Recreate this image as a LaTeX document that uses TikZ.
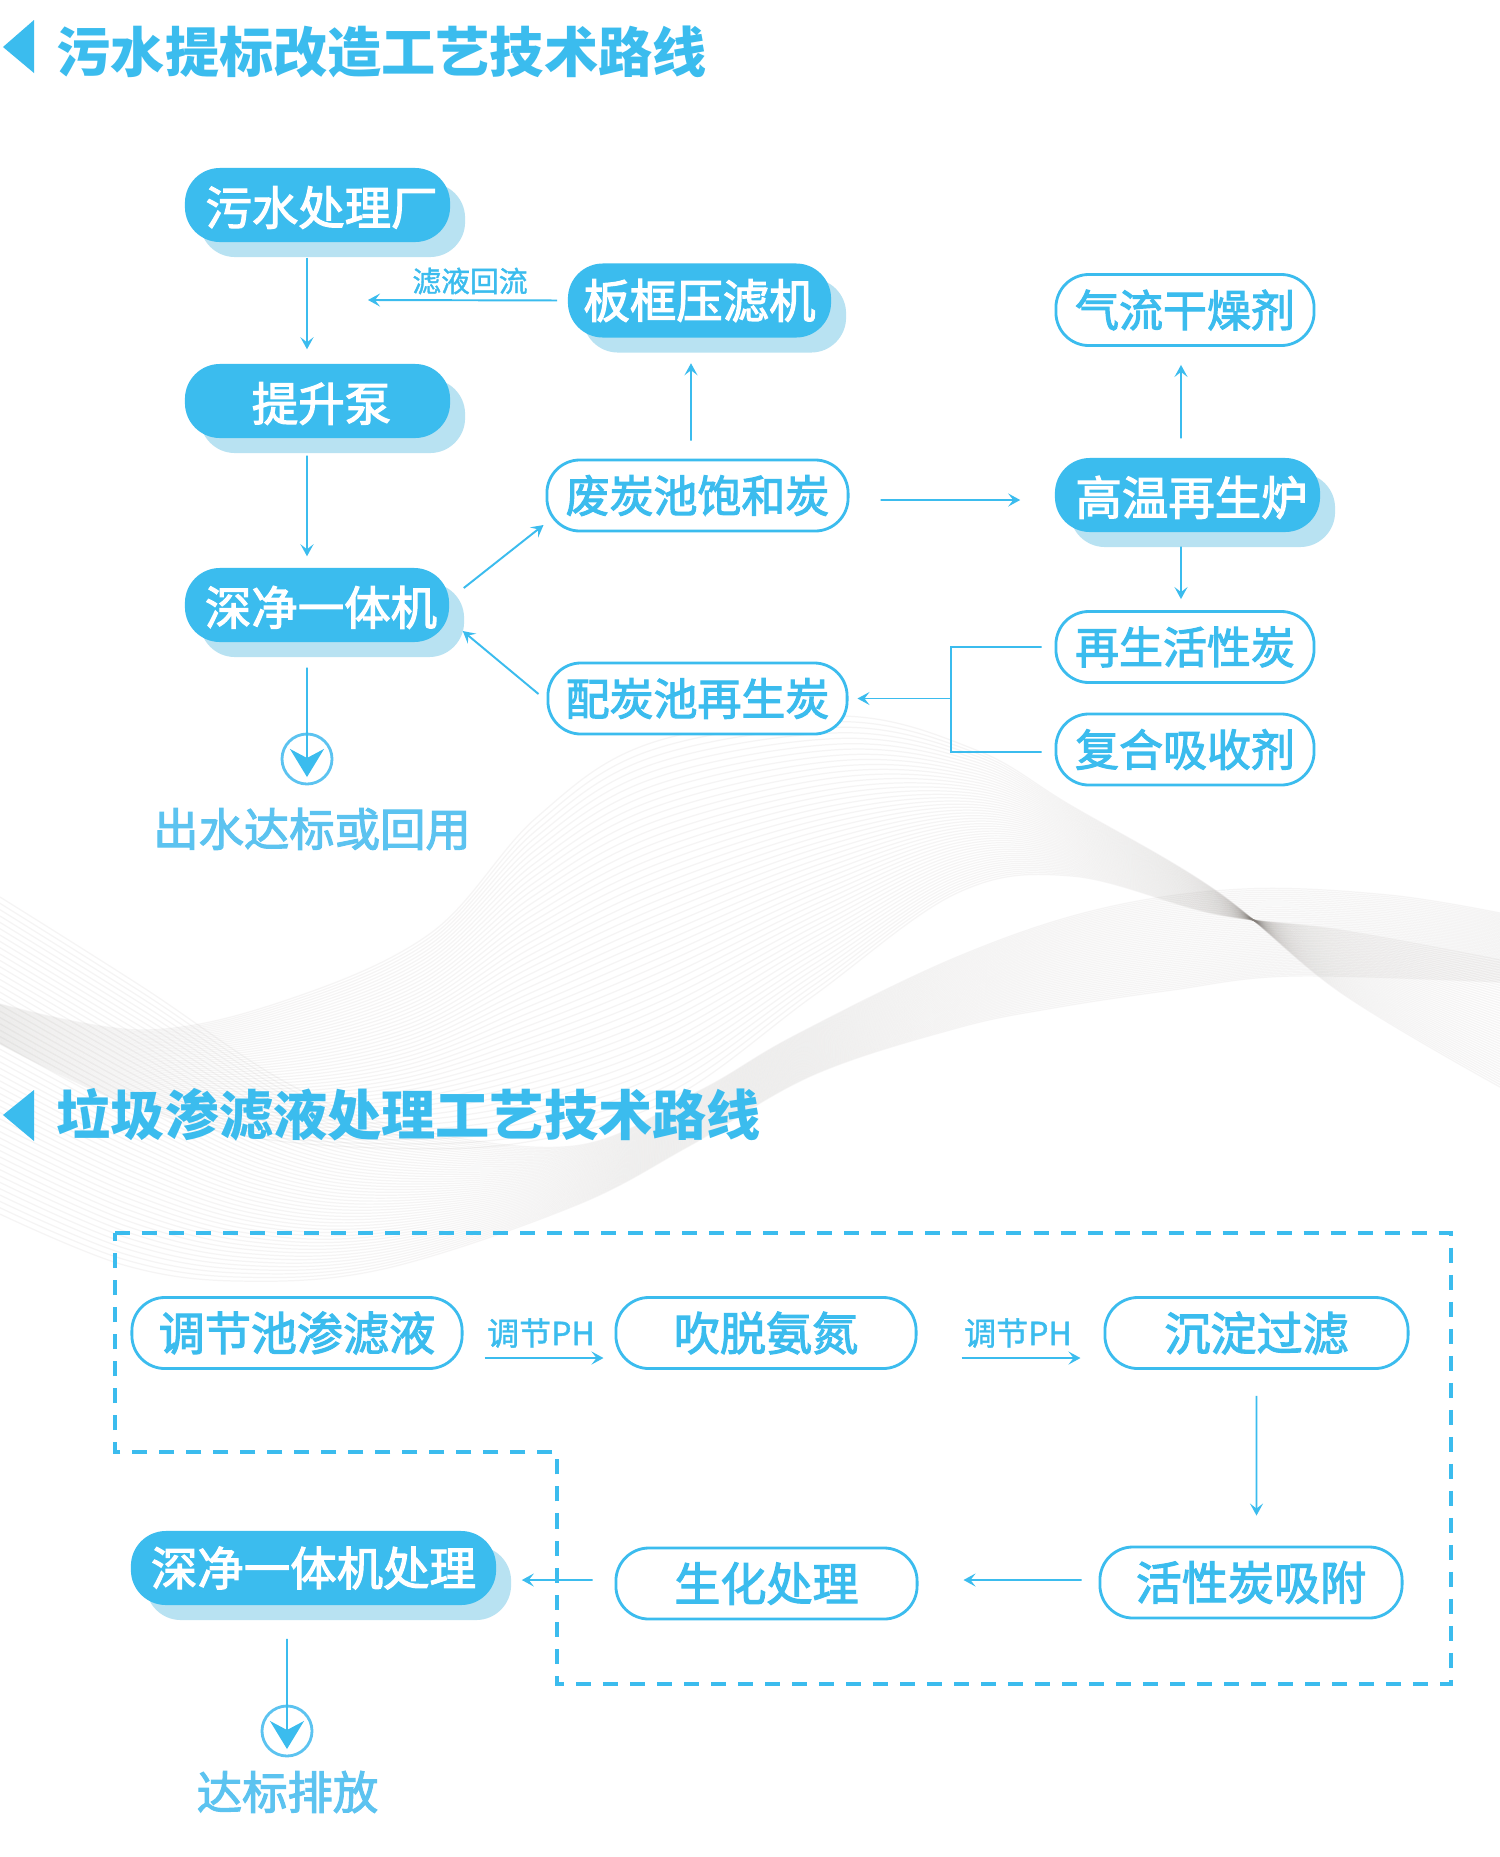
\documentclass[tikz,border=0pt]{standalone}
\usepackage{fontspec}
\usetikzlibrary{arrows.meta,calc,shadows}
\newfontfamily\cjk{Noto Sans CJK SC}
\newfontfamily\cjkmed[FakeBold=2.4]{Noto Sans CJK SC}
\newfontfamily\cjkthin[FakeBold=1.2]{Noto Sans CJK SC}
\definecolor{flowblue}{HTML}{3BBCEE}
\definecolor{paleblue}{HTML}{B8E2F2}
\definecolor{softblue}{HTML}{5CC3F0}
\definecolor{wavegrey}{HTML}{857F7A}
\tikzset{
  fillbox/.style={fill=flowblue,text=white,rounded corners=.35cm,minimum height=.74cm,inner sep=0pt,
    font=\cjkmed\fontsize{13.2}{15}\selectfont,
    general shadow={fill=paleblue,shadow xshift=.15cm,shadow yshift=-.15cm}},
  linebox/.style={draw=flowblue,fill=white,text=flowblue,line width=.8pt,rounded corners=.33cm,minimum height=.71cm,inner sep=0pt,
    font=\cjkmed\fontsize{13.1}{15}\selectfont},
  linenarrow/.style={linebox,font=\cjkmed\fontsize{12.5}{15}\selectfont},
  nudged/.style={text height=.44cm,text depth=.04cm,execute at begin node=\hspace*{.08cm}},
  flowline/.style={draw=flowblue,line width=.55pt,-{Stealth[length=.12cm,width=.13cm,inset=.05cm]}},
  bigline/.style={draw=flowblue,line width=.55pt,-{Stealth[length=.28cm,width=.34cm,inset=.09cm]}},
  busline/.style={draw=flowblue,line width=.55pt},
  endring/.style={circle,draw=softblue,line width=.8pt,minimum size=.5cm,inner sep=0pt},
  titletext/.style={text=flowblue,inner sep=0pt,anchor=west,font=\cjk\bfseries\fontsize{15.4}{17}\selectfont},
  smalltext/.style={text=flowblue,inner sep=0pt,font=\cjkthin\fontsize{8.2}{10}\selectfont},
  phtext/.style={smalltext,font=\cjkthin\fontsize{9.1}{11}\selectfont},
  endtext/.style={text=softblue,inner sep=0pt,font=\cjkmed\fontsize{12.9}{15}\selectfont},
  waveline/.style={draw=wavegrey,line width=.35pt,opacity=.08}
}
\begin{document}
\begin{tikzpicture}[x=.01cm,y=-.01cm]
\useasboundingbox (0,0) rectangle (1500,1857);
\fill[white] (0,0) rectangle (1500,1857);
\foreach \n/\ax/\ay/\bx/\by in {1/0/1004/0/1044,2/144/1030/115/1099,3/287/1000/239/1135,4/431/933/383/1148,5/536/818/526/1142,6/651/743/670/1099,7/842/716/813/996,8/976/750/957/893,9/1070/805/1072/876,10/1215/890/1215/914,11/1340/992/1340/930,12/1500/1087/1500/960}
  {\coordinate (ha\n) at (\ax,\ay); \coordinate (hb\n) at (\bx,\by);}
\foreach \n/\ax/\ay/\bx/\by in {1/0/897/0/1214,2/144/988/124/1265,3/287/1083/239/1281,4/402/1127/383/1269,5/574/1146/574/1206,6/699/1091/689/1146,7/794/1036/813/1075,8/957/957/957/1028,9/1100/909/1053/1008,10/1244/889/1172/990,11/1388/895/1292/976,12/1500/913/1500/982}
  {\coordinate (ta\n) at (\ax,\ay); \coordinate (tb\n) at (\bx,\by);}
\foreach \t in {0,.02,...,1.01}
  \draw[waveline] plot[smooth,tension=.6] coordinates {($(ha1)!\t!(hb1)$) ($(ha2)!\t!(hb2)$) ($(ha3)!\t!(hb3)$) ($(ha4)!\t!(hb4)$) ($(ha5)!\t!(hb5)$) ($(ha6)!\t!(hb6)$) ($(ha7)!\t!(hb7)$) ($(ha8)!\t!(hb8)$) ($(ha9)!\t!(hb9)$) ($(ha10)!\t!(hb10)$) ($(ha11)!\t!(hb11)$) ($(ha12)!\t!(hb12)$)};
\foreach \t in {0,.02,...,1.01}
  \draw[waveline] plot[smooth,tension=.6] coordinates {($(ta1)!\t!(tb1)$) ($(ta2)!\t!(tb2)$) ($(ta3)!\t!(tb3)$) ($(ta4)!\t!(tb4)$) ($(ta5)!\t!(tb5)$) ($(ta6)!\t!(tb6)$) ($(ta7)!\t!(tb7)$) ($(ta8)!\t!(tb8)$) ($(ta9)!\t!(tb9)$) ($(ta10)!\t!(tb10)$) ($(ta11)!\t!(tb11)$) ($(ta12)!\t!(tb12)$)};

\fill[flowblue] (3,47) -- (34,20) -- (34,73) -- cycle;
\node[titletext] (title1) at (56,52) {污水提标改造工艺技术路线};
\fill[flowblue] (3,1115) -- (34,1090) -- (34,1141) -- cycle;
\node[titletext] (title2) at (56,1115) {垃圾渗滤液处理工艺技术路线};

\node[fillbox,nudged,minimum width=2.65cm] (plant) at (317.5,205) {污水处理厂};
\node[fillbox,nudged,minimum width=2.65cm] (pump) at (317.5,401) {提升泵};
\node[fillbox,nudged,minimum width=2.64cm] (deep) at (317,605) {深净一体机};
\node[fillbox,minimum width=2.63cm] (filter) at (699.5,300.5) {板框压滤机};
\node[linenarrow,minimum width=3.01cm] (waste) at (697.5,495.5) {废炭池饱和炭};
\node[linenarrow,minimum width=2.99cm] (mix) at (697.5,698.5) {配炭池再生炭};
\node[fillbox,nudged,minimum width=2.65cm] (furnace) at (1187.5,495) {高温再生炉};
\node[linenarrow,minimum width=2.58cm] (dryer) at (1185,310) {气流干燥剂};
\node[linenarrow,minimum width=2.58cm] (regen) at (1185,647) {再生活性炭};
\node[linenarrow,minimum width=2.58cm] (compound) at (1185,749.5) {复合吸收剂};
\node[endring] (exit1) at (307,759) {};
\node[endtext] (exittext1) at (312,829) {出水达标或回用};
\node[smalltext] (returntext) at (470,281) {滤液回流};
\coordinate (returnend) at (368,300);
\coordinate (bustop) at (951,647);
\coordinate (busmid) at (951,698.5);
\coordinate (busbot) at (951,752);

\draw[flowline,shorten <=.15cm,shorten >=.14cm] ([xshift=-.105cm]plant.south) -- ([xshift=-.105cm]pump.north);
\draw[flowline,shorten <=.17cm,shorten >=.11cm] ([xshift=-.105cm]pump.south) -- ([xshift=-.1cm]deep.north);
\draw[flowline,shorten <=.1cm] (filter.west) -- (returnend);
\draw[flowline,shorten <=.18cm,shorten >=.25cm] ([xshift=-.065cm]waste.north) -- ([xshift=-.085cm]filter.south);
\draw[flowline] ([shift={(.14cm,.17cm)}]deep.east) -- ([shift={(-.02cm,-.295cm)}]waste.west);
\draw[flowline] ([shift={(-.08cm,.045cm)}]mix.west) -- ([shift={(.13cm,-.26cm)}]deep.east);
\draw[bigline,shorten <=.25cm] ([xshift=-.1cm]deep.south) -- ([yshift=-.18cm]exit1.center);
\draw[flowline,shorten <=.31cm,shorten >=.34cm] ([yshift=-.045cm]waste.east) -- ([yshift=-.05cm]furnace.west);
\draw[flowline,shorten <=.19cm,shorten >=.18cm] ([xshift=-.065cm]furnace.north) -- ([xshift=-.04cm]dryer.south);
\draw[flowline,shorten <=.14cm,shorten >=.11cm] ([xshift=-.065cm]furnace.south) -- ([xshift=-.04cm]regen.north);
\draw[busline,shorten <=.13cm,shorten >=.13cm] (regen.west) -- (bustop) -- (busbot) -- ([yshift=-.025cm]compound.west);
\draw[flowline,shorten >=.09cm] (busmid) -- (mix.east);

\draw[draw=flowblue,line width=.9pt,dash pattern=on .15cm off .12cm] (115,1233) -- (1451,1233) -- (1451,1684) -- (557,1684) -- (557,1452) -- (115,1452) -- cycle;

\node[linebox,minimum width=3.3cm] (adjust) at (297,1333) {调节池渗滤液};
\node[linebox,minimum width=3cm] (strip) at (766,1333) {吹脱氨氮};
\node[linebox,minimum width=3.03cm] (settle) at (1256.5,1333) {沉淀过滤};
\node[linebox,minimum width=3.02cm] (active) at (1251,1582.5) {活性炭吸附};
\node[linebox,minimum width=3.01cm] (bio) at (766.5,1583.5) {生化处理};
\node[fillbox,minimum width=3.65cm] (deeptwo) at (313.5,1568) {深净一体机处理};
\node[endring] (exit2) at (287,1731) {};
\node[endtext] (exittext2) at (287.5,1792) {达标排放};
\node[phtext] (phone) at (541,1333) {调节PH};
\node[phtext] (phtwo) at (1018,1333) {调节PH};

\draw[flowline,shorten <=.21cm,shorten >=.11cm] ([yshift=-.25cm]adjust.east) -- ([yshift=-.25cm]strip.west);
\draw[flowline,shorten <=.44cm,shorten >=.23cm] ([yshift=-.25cm]strip.east) -- ([yshift=-.25cm]settle.west);
\draw[flowline,shorten <=.26cm,shorten >=.3cm] (settle.south) -- ([xshift=.055cm]active.north);
\draw[flowline,shorten <=.17cm,shorten >=.45cm] ([yshift=.025cm]active.west) -- ([yshift=.035cm]bio.east);
\draw[flowline,shorten <=.22cm,shorten >=.25cm] ([yshift=.035cm]bio.west) -- ([yshift=-.12cm]deeptwo.east);
\draw[bigline,shorten <=.33cm] ([xshift=-.265cm]deeptwo.south) -- ([yshift=-.18cm]exit2.center);
\end{tikzpicture}
\end{document}
